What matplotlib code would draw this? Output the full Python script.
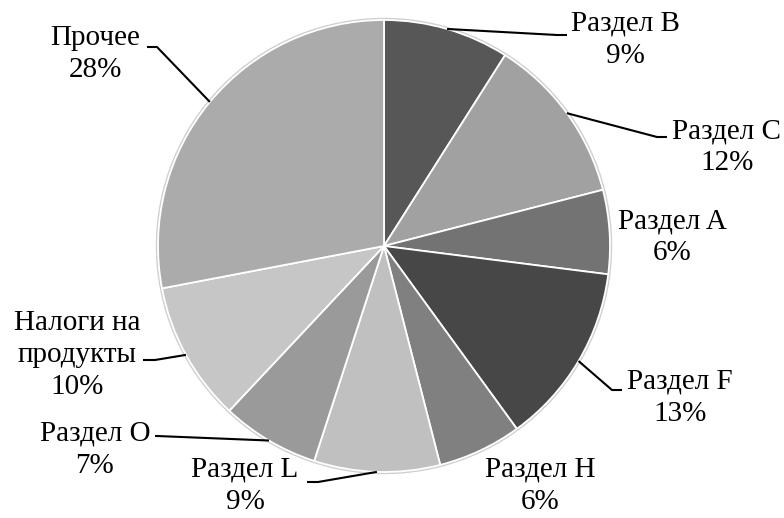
"""
Pie chart: structure by sections (grayscale, leader-line labels).
"""

import numpy as np
import matplotlib
matplotlib.use("Agg")
import matplotlib.pyplot as plt
from matplotlib.patches import Circle

W, H = 784, 518

names = ["Раздел B", "Раздел C", "Раздел A", "Раздел F", "Раздел H",
         "Раздел L", "Раздел O", "Налоги на\nпродукты", "Прочее"]
shares = [9, 12, 6, 13, 6, 9, 7, 10, 28]
colors = ["#575757", "#a1a1a1", "#737373", "#474747", "#808080",
          "#c0c0c0", "#9a9a9a", "#c6c6c6", "#ababab"]

# label layout in pixels: text centre, elbow point (None = no leader)
label_xy = [(625, 40), (727, 147), (672, 237), (680, 398), (540, 486),
            (245, 486), (95, 450), (77, 355), (95, 54)]
elbow_xy = [(557, 35), (657, 137), None, (612, 390), None,
            (318, 482), (157, 436), (155, 360), (157, 47)]
tail_xy = [(567, 35), (667, 137), None, (622, 390), None,
           (307, 482), (155, 436), (143, 360), (147, 47)]

cx, cy, r = 384, 246, 226

plt.rcParams["font.family"] = ["Liberation Serif", "DejaVu Serif"]

fig = plt.figure(figsize=(W / 100, H / 100), dpi=100)
ax = fig.add_axes([0, 0, 1, 1])


def py(y):
    return H - y


# faint shadow ring
ax.add_patch(Circle((cx, py(cy)), r + 1.5, color="#cfcfcf", zorder=0))

wedges, _ = ax.pie(shares, colors=colors, startangle=90, counterclock=False,
                   center=(cx, py(cy)), radius=r, frame=True,
                   wedgeprops=dict(edgecolor="white", linewidth=1.3))
ax.set_xlim(0, W)
ax.set_ylim(0, H)
ax.set_aspect("equal")
ax.axis("off")

for w, name, pct, lxy, exy, txy in zip(wedges, names, shares, label_xy, elbow_xy, tail_xy):
    ax.text(lxy[0], py(lxy[1]), f"{name}\n{pct}%", ha="center", va="center",
            multialignment="center", fontsize=21, linespacing=1.3, color="black")
    if exy is None:
        continue
    mid = np.deg2rad((w.theta1 + w.theta2) / 2)
    sx, sy = cx + r * np.cos(mid), py(cy) + r * np.sin(mid)
    ax.plot([sx, exy[0], txy[0]], [sy, py(exy[1]), py(txy[1])],
            color="black", lw=1.5, solid_capstyle="butt")

fig.savefig("out.png", dpi=100)
